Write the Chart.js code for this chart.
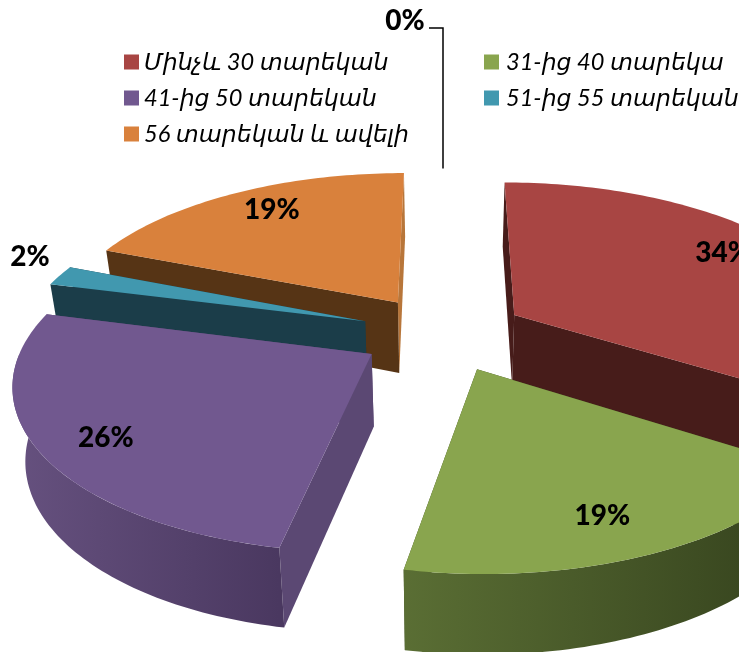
<!DOCTYPE html>
<html lang="hy">
<head>
<meta charset="utf-8">
<title>Pie</title>
<script src="https://cdn.jsdelivr.net/npm/chart.js@4/dist/chart.umd.min.js"></script>
<style>
  html, body { margin: 0; padding: 0; background: #fff; overflow: hidden; }
  #box { width: 739px; height: 652px; }
  canvas { display: block; }
</style>
</head>
<body>
<div id="box"><canvas id="pie"></canvas></div>
<script>
// Data
const categories = ['Մինչև 30 տարեկան', '31-ից 40 տարեկա', '41-ից 50 տարեկան', '51-ից 55 տարեկան', '56 տարեկան և ավելի', ''];
const shares = [34, 19, 26, 2, 19, 0];
const shareLabels = ['34%', '19%', '26%', '2%', '19%', '0%'];

// Colours of each slice: top face, side faces, rim gradient left/right
const topColors = ['#a84543', '#89a54e', '#71588f', '#4198af', '#d9813c', '#888888'];
const startWallColors = ['#471c1a', '#3f4d22', '#5b4873', '#1b3d49', '#563415', '#888888'];
const endWallColors = ['#471c1a', '#3f4d22', '#5b4873', '#1b3d49', '#b8763a', '#888888'];
const rimLeft = ['#4a1d1b', '#5a6e34', '#66517f', '#1b3d49', '#563415', '#888888'];
const rimRight = ['#471c1a', '#33401c', '#4a3860', '#1b3d49', '#563415', '#888888'];

// Fake 3D view: perspective squash of the flat pie
const VIEW = { cx: 443, cy: 333, rx: 345, ry: 159, perspX: 0.16, perspY: 0.16, explode: 0.24, depth: 72, taper: 0.97 };

function flat(theta, r, mid) {
  // theta: clockwise from top. Y grows towards the viewer
  return {
    X: r * Math.sin(theta) + VIEW.explode * Math.sin(mid),
    Y: -r * Math.cos(theta) - VIEW.explode * Math.cos(mid)
  };
}

function project(theta, r, mid, down) {
  const p = flat(theta, r, mid);
  const dx = VIEW.rx * p.X / (1 - VIEW.perspX * p.Y);
  return {
    x: VIEW.cx + dx * (down ? VIEW.taper : 1),
    y: VIEW.cy + VIEW.ry * p.Y / (1 - VIEW.perspY * p.Y) + (down ? VIEW.depth + 7 * p.Y : 0)
  };
}

function fillPoly(ctx, pts, color) {
  ctx.beginPath();
  pts.forEach((p, i) => i ? ctx.lineTo(p.x, p.y) : ctx.moveTo(p.x, p.y));
  ctx.closePath();
  ctx.fillStyle = color;
  ctx.fill();
}

function rimPoints(a, b, mid, down) {
  const out = [];
  const n = Math.max(2, Math.ceil((b - a) / 0.02));
  for (let i = 0; i <= n; i++) out.push(project(a + (b - a) * i / n, 1, mid, down));
  return out;
}

function radialWall(theta, mid) {
  return [project(theta, 0, mid, false), project(theta, 1, mid, false),
          project(theta, 1, mid, true), project(theta, 0, mid, true)];
}

// Draws the slices from the angles Chart.js computed for its arcs
const pie3d = {
  id: 'pie3d',
  beforeDatasetsDraw(chart) {
    const ctx = chart.ctx;
    const arcs = chart.getDatasetMeta(0).data;
    const order = arcs.map((arc, i) => {
      const a = arc.startAngle + Math.PI / 2, b = arc.endAngle + Math.PI / 2;
      return { i, a, b, mid: (a + b) / 2 };
    }).filter(s => s.b > s.a);
    order.sort((p, q) => flat(0, 0, p.mid).Y - flat(0, 0, q.mid).Y);

    order.forEach(s => {
      ctx.save();
      // radial side faces, the one further back first
      const w1 = { pts: radialWall(s.a, s.mid), color: startWallColors[s.i] };
      const w2 = { pts: radialWall(s.b, s.mid), color: endWallColors[s.i] };
      const backFirst = w1.pts[1].y < w2.pts[1].y ? [w1, w2] : [w2, w1];
      backFirst.forEach(w => fillPoly(ctx, w.pts, w.color));

      // rim, only the part that faces the viewer
      const a = Math.max(s.a, Math.PI / 2), b = Math.min(s.b, Math.PI * 1.5);
      if (b > a) {
        const upper = rimPoints(a, b, s.mid, false);
        const lower = rimPoints(a, b, s.mid, true).reverse();
        const xs = upper.map(p => p.x);
        const grad = ctx.createLinearGradient(Math.min(...xs), 0, Math.max(...xs), 0);
        grad.addColorStop(0, rimLeft[s.i]);
        grad.addColorStop(1, rimRight[s.i]);
        fillPoly(ctx, upper.concat(lower), grad);
      }

      // top face
      fillPoly(ctx, [project(s.a, 0, s.mid, false)].concat(rimPoints(s.a, s.b, s.mid, false)), topColors[s.i]);
      ctx.restore();
    });
    return false;
  },
  afterDraw(chart) {
    const ctx = chart.ctx;
    const arcs = chart.getDatasetMeta(0).data;
    // label spot: fraction of radius, turn from the slice middle in degrees
    const labelRadius = [0.8, 0.807, 0.826, 1.157, 0.809];
    const labelTurn = [-4, 2, -2, 4.6, 2];
    ctx.save();
    ctx.fillStyle = '#000';
    ctx.textAlign = 'center';
    ctx.textBaseline = 'middle';
    ctx.font = '900 28px Lato, "Open Sans", sans-serif';
    arcs.forEach((arc, i) => {
      if (i >= labelRadius.length) return;
      const a = arc.startAngle + Math.PI / 2, b = arc.endAngle + Math.PI / 2;
      const mid = (a + b) / 2;
      const p = project(mid + labelTurn[i] * Math.PI / 180, labelRadius[i], mid, false);
      ctx.fillText(shareLabels[i], p.x, p.y);
    });

    // leader line of the empty slice
    const zTheta = arcs[5].startAngle + Math.PI / 2;
    const foot = project(zTheta, 1, zTheta, false);
    ctx.strokeStyle = '#000';
    ctx.lineWidth = 1.5;
    ctx.beginPath();
    ctx.moveTo(foot.x, foot.y);
    ctx.lineTo(foot.x, 28);
    ctx.lineTo(429, 28);
    ctx.stroke();
    ctx.fillText(shareLabels[5], 405, 21);

    // legend, two columns
    ctx.textAlign = 'left';
    ctx.font = 'italic 23.6px Lato, "DejaVu Sans", sans-serif';
    categories.forEach((name, i) => {
      if (!name) return;
      const col = i % 2, row = Math.floor(i / 2);
      const x = col ? 484 : 124, y = 62 + row * 36;
      ctx.fillStyle = topColors[i];
      ctx.fillRect(x, y - 7.5, 15, 15);
      ctx.fillStyle = '#000';
      ctx.fillText(name, x + (col ? 22 : 20), y);
    });
    ctx.restore();
  }
};

new Chart(document.getElementById('pie'), {
  type: 'pie',
  data: {
    labels: categories,
    datasets: [{ data: shares, backgroundColor: topColors, borderWidth: 0 }]
  },
  options: {
    responsive: true,
    maintainAspectRatio: false,
    animation: false,
    plugins: { legend: { display: false }, tooltip: { enabled: false } }
  },
  plugins: [pie3d]
});
</script>
</body>
</html>
